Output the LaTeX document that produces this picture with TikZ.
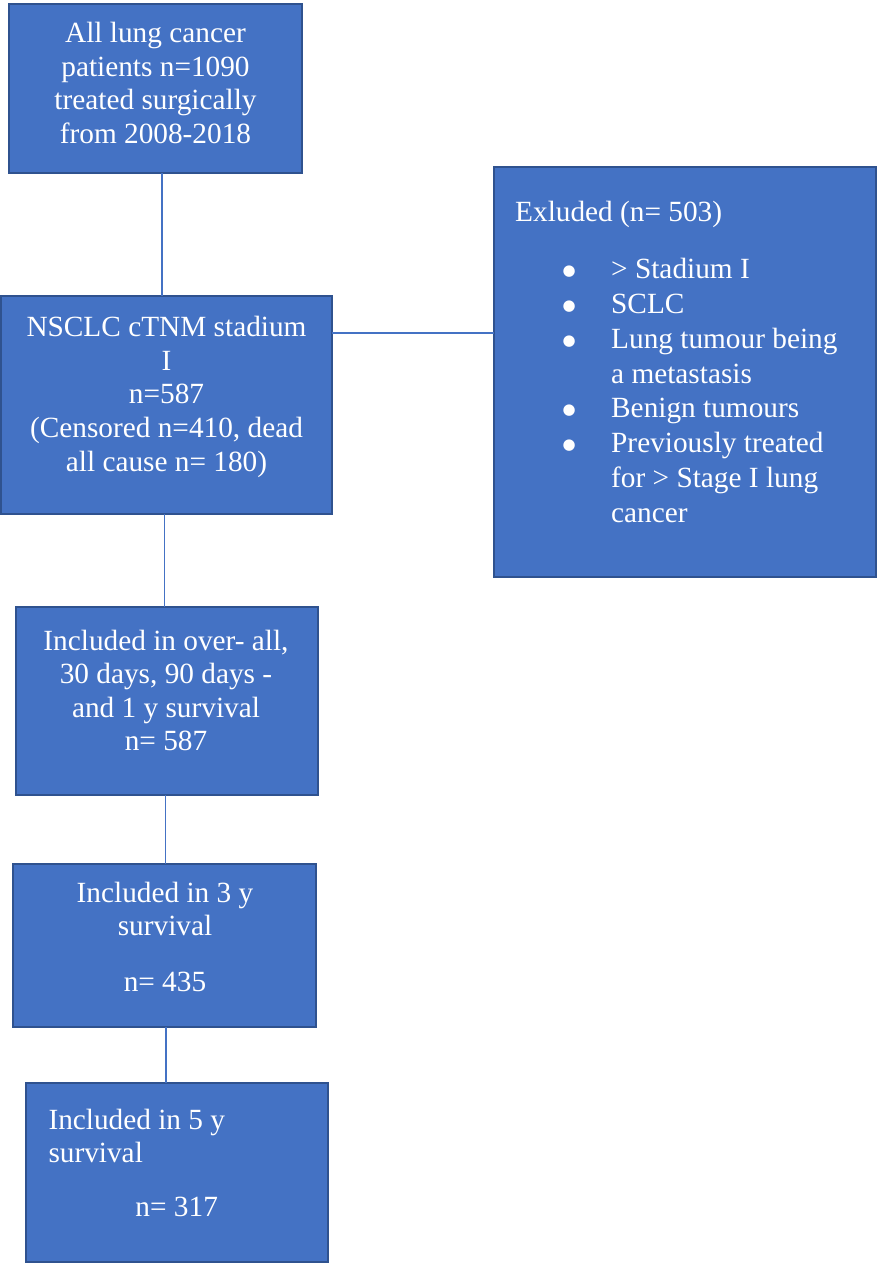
\documentclass[tikz,border=0pt]{standalone}
\usepackage{fontspec}
\setmainfont{Liberation Serif}
\newfontfamily\symfont{DejaVu Sans}
\definecolor{boxfill}{HTML}{4472C4}
\definecolor{boxline}{HTML}{2F528F}
\definecolor{connline}{HTML}{4472C4}
\newcommand{\mylines}[1]{\begin{tabular}[t]{@{}c@{}}#1\end{tabular}}
\newcommand{\myleft}[1]{\begin{tabular}[t]{@{}l@{}}#1\end{tabular}}
\newcommand{\bul}{\makebox[84pt][c]{\raisebox{3pt}{\symfont\fontsize{15}{15}\selectfont ●}}}
\begin{document}
\begin{tikzpicture}[x=1pt,y=-1pt,
  box/.style={draw=boxline,fill=boxfill,line width=2pt,inner sep=0pt,outer sep=0pt},
  conn/.style={draw=connline,line width=1.2pt},
  txt/.style={text=white,inner sep=0pt,anchor=base,font=\fontsize{29.3}{33.6}\selectfont},
  ltxt/.style={txt,anchor=base west},
  listtxt/.style={ltxt,font=\fontsize{29.3}{34.9}\selectfont}]
\useasboundingbox (0,0) rectangle (877,1264);
% boxes
\node[box,minimum width=293pt,minimum height=169pt] (b1) at (155.5,88.5) {};
\node[box,minimum width=331pt,minimum height=218pt] (b2) at (166.5,405) {};
\node[box,minimum width=382pt,minimum height=410pt] (b3) at (684.5,372) {};
\node[box,minimum width=302.5pt,minimum height=188pt] (b4) at (167,701) {};
\node[box,minimum width=302.5pt,minimum height=162.5pt] (b5) at (164.7,945.5) {};
\node[box,minimum width=302pt,minimum height=179pt] (b6) at (177,1172.5) {};
% texts
\node[txt] (t1) at (155.5,42.7) {\mylines{All lung cancer\\patients n=1090\\treated surgically\\from 2008-2018}};
\node[txt] (t2) at (166.5,336.7) {\mylines{NSCLC cTNM stadium\\I\\n=587\\(Censored n=410, dead\\all cause n= 180)}};
\node[ltxt] (t3) at (515,221.7) {Exluded (n= 503)};
\node[listtxt] (t3l) at (527,278.3) {\begin{tabular}[t]{@{}l@{}l@{}}
\bul & > Stadium I\\
\bul & SCLC\\
\bul & Lung tumour being\\
 & a metastasis\\
\bul & Benign tumours\\
\bul & Previously treated\\
 & for > Stage I lung\\
 & cancer\end{tabular}};
\node[txt] (t4) at (166,650) {\mylines{Included in over- all,\\30 days, 90 days -\\and 1 y survival\\n= 587}};
\node[txt] (t5) at (165,902.3) {\mylines{Included in 3 y\\survival\\[21.5pt]n= 435}};
\node[ltxt] (t6) at (48.3,1129.3) {\myleft{Included in 5 y\\survival}};
\node[txt] (t6n) at (176.7,1216.7) {n= 317};
% connectors
\coordinate (c1) at (162,0);
\coordinate (c2) at (164.5,0);
\coordinate (c3) at (165.5,0);
\coordinate (c4) at (166,0);
\coordinate (h) at (0,333);
\draw[conn] (b1.south -| c1) -- (b2.north -| c1);
\draw[conn] (b2.south -| c2) -- (b4.north -| c2);
\draw[conn] (b4.south -| c3) -- (b5.north -| c3);
\draw[conn] (b5.south -| c4) -- (b6.north -| c4);
\draw[conn] (b2.east |- h) -- (b3.west |- h);
\end{tikzpicture}
\end{document}
